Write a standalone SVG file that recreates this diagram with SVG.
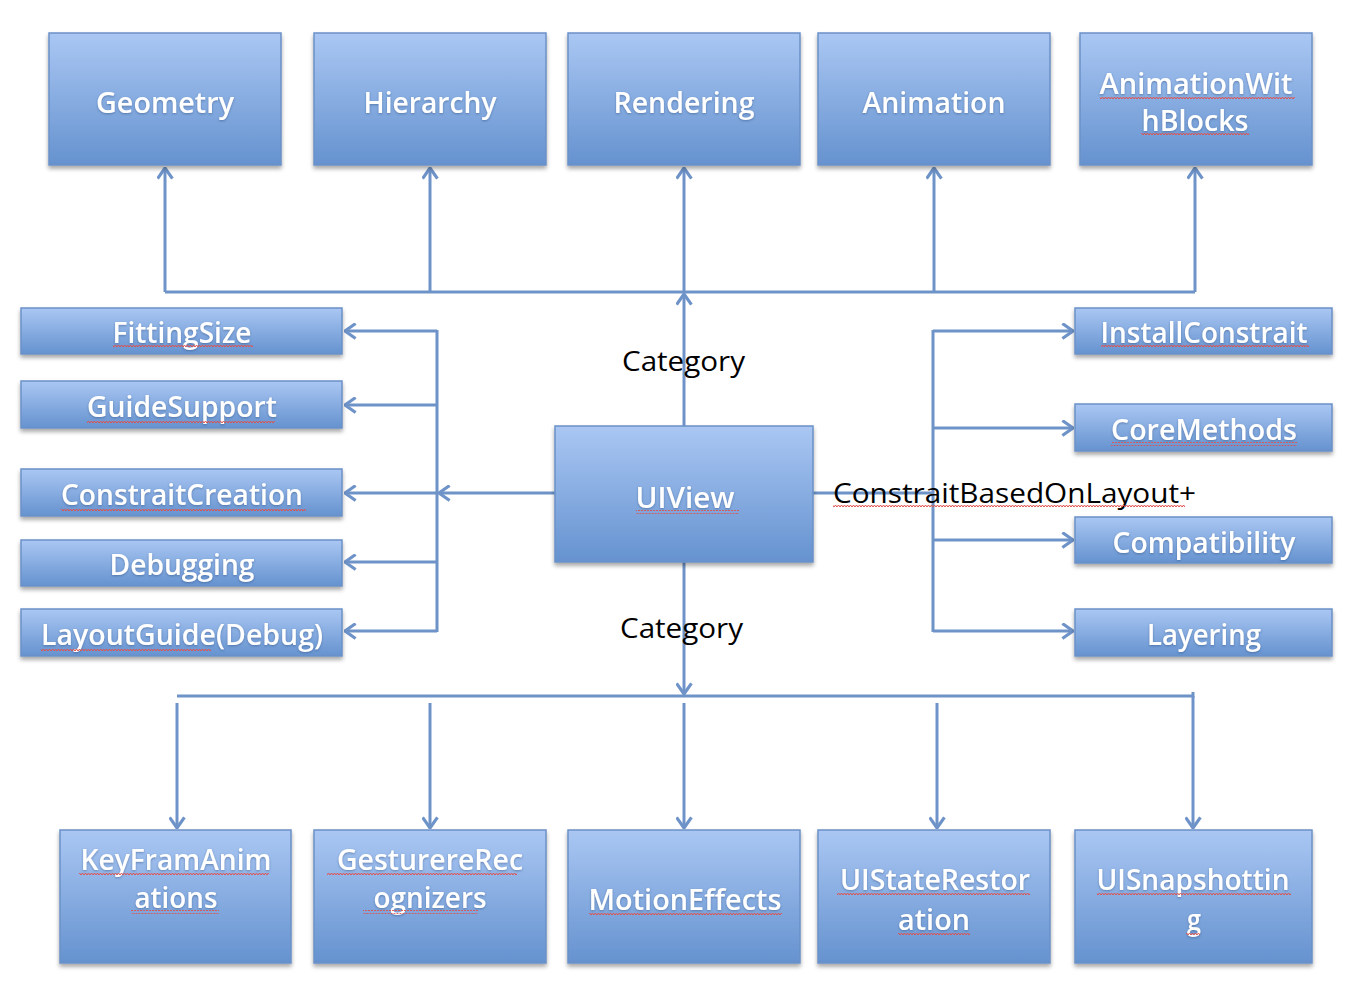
<svg xmlns="http://www.w3.org/2000/svg" width="1364" height="990" viewBox="0 0 1364 990">
<defs>
<linearGradient id="g" x1="0" y1="0" x2="0" y2="1">
<stop offset="0" stop-color="#aac7f3"/>
<stop offset="1" stop-color="#6592cf"/>
</linearGradient>
<filter id="sh" x="-10%" y="-10%" width="120%" height="130%">
<feDropShadow dx="0" dy="3" stdDeviation="2" flood-color="#000" flood-opacity="0.35"/>
</filter>
<filter id="ts" x="-5%" y="-20%" width="110%" height="140%">
<feDropShadow dx="0" dy="1" stdDeviation="0.8" flood-color="#2a4a7a" flood-opacity="0.5"/>
</filter>
<pattern id="sq" width="6" height="4" patternUnits="userSpaceOnUse">
<path d="M0,3 L1.5,1 L3,3 L4.5,1 L6,3" fill="none" stroke="#e0504a" stroke-width="1"/>
</pattern>
<marker id="ar" viewBox="0 0 12 16" refX="11" refY="8" markerWidth="13" markerHeight="17" markerUnits="userSpaceOnUse" orient="auto">
<path d="M1,1 L11,8 L1,15" fill="none" stroke="#6e93c8" stroke-width="3"/>
</marker>
</defs>
<style>
.box{fill:url(#g);stroke:#6b91c7;stroke-width:1.5;filter:url(#sh)}
.t{font-family:"Open Sans",Lato,"Liberation Sans",sans-serif;font-weight:600;font-size:28px;fill:#fff;text-anchor:middle;filter:url(#ts)}
.l{font-family:"Open Sans",Lato,"Liberation Sans",sans-serif;font-size:28px;fill:#000}
.c{fill:none;stroke:#6e93c8;stroke-width:3}
.u{fill:url(#sq)}
</style>
<rect width="1364" height="990" fill="#fff"/>
<g id="connectors">
<path class="c" d="M165,292 H1195"/>
<path class="c" d="M165,292 V168" marker-end="url(#ar)"/>
<path class="c" d="M430,292 V168" marker-end="url(#ar)"/>
<path class="c" d="M684,292 V168" marker-end="url(#ar)"/>
<path class="c" d="M934,292 V168" marker-end="url(#ar)"/>
<path class="c" d="M1195,292 V168" marker-end="url(#ar)"/>
<path class="c" d="M684,426 V294" marker-end="url(#ar)"/>
<path class="c" d="M437,330 V632"/>
<path class="c" d="M437,331 H345" marker-end="url(#ar)"/>
<path class="c" d="M437,405 H345" marker-end="url(#ar)"/>
<path class="c" d="M437,493 H345" marker-end="url(#ar)"/>
<path class="c" d="M437,562 H345" marker-end="url(#ar)"/>
<path class="c" d="M437,631 H345" marker-end="url(#ar)"/>
<path class="c" d="M555,493 H439" marker-end="url(#ar)"/>
<path class="c" d="M813,493 H933"/>
<path class="c" d="M933,330 V632"/>
<path class="c" d="M933,331 H1073" marker-end="url(#ar)"/>
<path class="c" d="M933,428 H1073" marker-end="url(#ar)"/>
<path class="c" d="M933,540 H1073" marker-end="url(#ar)"/>
<path class="c" d="M933,631 H1073" marker-end="url(#ar)"/>
<path class="c" d="M684,562 V694" marker-end="url(#ar)"/>
<path class="c" d="M177,696 H1193 V692"/>
<path class="c" d="M177,703 V828" marker-end="url(#ar)"/>
<path class="c" d="M430,703 V828" marker-end="url(#ar)"/>
<path class="c" d="M684,703 V828" marker-end="url(#ar)"/>
<path class="c" d="M937,703 V828" marker-end="url(#ar)"/>
<path class="c" d="M1193,696 V828" marker-end="url(#ar)"/>
</g>
<g id="labels">
<text class="l" x="622" y="371" textLength="123" lengthAdjust="spacingAndGlyphs">Category</text>
<text class="l" x="620" y="638" textLength="123" lengthAdjust="spacingAndGlyphs">Category</text>
<text class="l" x="833" y="503" textLength="363" lengthAdjust="spacingAndGlyphs">ConstraitBasedOnLayout+</text>
<rect class="u" x="833" y="505" width="352" height="4"/>
</g>
<g id="n-geometry"><rect class="box" x="49" y="33" width="232" height="132"/><text class="t" x="165" y="113" textLength="138" lengthAdjust="spacingAndGlyphs">Geometry</text></g>
<g id="n-hierarchy"><rect class="box" x="314" y="33" width="232" height="132"/><text class="t" x="430" y="113" textLength="133" lengthAdjust="spacingAndGlyphs">Hierarchy</text></g>
<g id="n-rendering"><rect class="box" x="568" y="33" width="232" height="132"/><text class="t" x="684" y="113" textLength="141" lengthAdjust="spacingAndGlyphs">Rendering</text></g>
<g id="n-animation"><rect class="box" x="818" y="33" width="232" height="132"/><text class="t" x="934" y="113" textLength="143" lengthAdjust="spacingAndGlyphs">Animation</text></g>
<g id="n-animationwithblocks"><rect class="box" x="1080" y="33" width="232" height="132"/><text class="t" x="1196" y="94" textLength="193" lengthAdjust="spacingAndGlyphs">AnimationWit</text><text class="t" x="1195" y="131" textLength="107" lengthAdjust="spacingAndGlyphs">hBlocks</text><rect class="u" x="1100" y="96" width="195" height="4"/><rect class="u" x="1141" y="133" width="108" height="4"/></g>
<g id="n-fittingsize"><rect class="box" x="21" y="308" width="321" height="46"/><text class="t" x="182" y="343" textLength="139" lengthAdjust="spacingAndGlyphs">FittingSize</text><rect class="u" x="113" y="345" width="140" height="4"/></g>
<g id="n-guidesupport"><rect class="box" x="21" y="381" width="321" height="47"/><text class="t" x="182" y="417" textLength="190" lengthAdjust="spacingAndGlyphs">GuideSupport</text><rect class="u" x="87" y="419" width="188" height="4"/></g>
<g id="n-constraitcreation"><rect class="box" x="21" y="469" width="321" height="47"/><text class="t" x="182" y="505" textLength="242" lengthAdjust="spacingAndGlyphs">ConstraitCreation</text><rect class="u" x="61" y="507" width="245" height="4"/></g>
<g id="n-debugging"><rect class="box" x="21" y="540" width="321" height="46"/><text class="t" x="182" y="575" textLength="145" lengthAdjust="spacingAndGlyphs">Debugging</text></g>
<g id="n-layoutguide"><rect class="box" x="21" y="609" width="321" height="47"/><text class="t" x="182" y="645" textLength="282" lengthAdjust="spacingAndGlyphs">LayoutGuide(Debug)</text><rect class="u" x="41" y="647" width="170" height="4"/></g>
<g id="n-uiview"><rect class="box" x="555" y="426" width="258" height="136"/><text class="t" x="685" y="508" textLength="99" lengthAdjust="spacingAndGlyphs">UIView</text><rect class="u" x="636" y="510" width="103" height="4"/></g>
<g id="n-installconstrait"><rect class="box" x="1075" y="308" width="257" height="46"/><text class="t" x="1204" y="343" textLength="207" lengthAdjust="spacingAndGlyphs">InstallConstrait</text><rect class="u" x="1101" y="345" width="208" height="4"/></g>
<g id="n-coremethods"><rect class="box" x="1075" y="404" width="257" height="47"/><text class="t" x="1204" y="440" textLength="186" lengthAdjust="spacingAndGlyphs">CoreMethods</text><rect class="u" x="1111" y="442" width="186" height="4"/></g>
<g id="n-compatibility"><rect class="box" x="1075" y="517" width="257" height="46"/><text class="t" x="1204" y="553" textLength="183" lengthAdjust="spacingAndGlyphs">Compatibility</text></g>
<g id="n-layering"><rect class="box" x="1075" y="609" width="257" height="47"/><text class="t" x="1204" y="645" textLength="114" lengthAdjust="spacingAndGlyphs">Layering</text></g>
<g id="n-keyframanimations"><rect class="box" x="60" y="830" width="231" height="133"/><text class="t" x="176" y="870" textLength="191" lengthAdjust="spacingAndGlyphs">KeyFramAnim</text><text class="t" x="176" y="908" textLength="83" lengthAdjust="spacingAndGlyphs">ations</text><rect class="u" x="79" y="872" width="190" height="4"/><rect class="u" x="131" y="910" width="88" height="4"/></g>
<g id="n-gesturerecognizers"><rect class="box" x="314" y="830" width="232" height="133"/><text class="t" x="430" y="870" textLength="186" lengthAdjust="spacingAndGlyphs">GesturereRec</text><text class="t" x="430" y="908" textLength="113" lengthAdjust="spacingAndGlyphs">ognizers</text><rect class="u" x="327" y="872" width="190" height="4"/><rect class="u" x="363" y="910" width="115" height="4"/></g>
<g id="n-motioneffects"><rect class="box" x="568" y="830" width="232" height="133"/><text class="t" x="685" y="910" textLength="193" lengthAdjust="spacingAndGlyphs">MotionEffects</text><rect class="u" x="589" y="912" width="193" height="4"/></g>
<g id="n-uistaterestoration"><rect class="box" x="818" y="830" width="232" height="133"/><text class="t" x="935" y="890" textLength="190" lengthAdjust="spacingAndGlyphs">UIStateRestor</text><text class="t" x="934" y="930" textLength="72" lengthAdjust="spacingAndGlyphs">ation</text><rect class="u" x="837" y="892" width="193" height="4"/><rect class="u" x="898" y="932" width="72" height="4"/></g>
<g id="n-uisnapshotting"><rect class="box" x="1075" y="830" width="237" height="133"/><text class="t" x="1193" y="890" textLength="193" lengthAdjust="spacingAndGlyphs">UISnapshottin</text><text class="t" x="1194" y="930" textLength="14" lengthAdjust="spacingAndGlyphs">g</text><rect class="u" x="1097" y="892" width="194" height="4"/><rect class="u" x="1186" y="932" width="14" height="4"/></g>
</svg>
